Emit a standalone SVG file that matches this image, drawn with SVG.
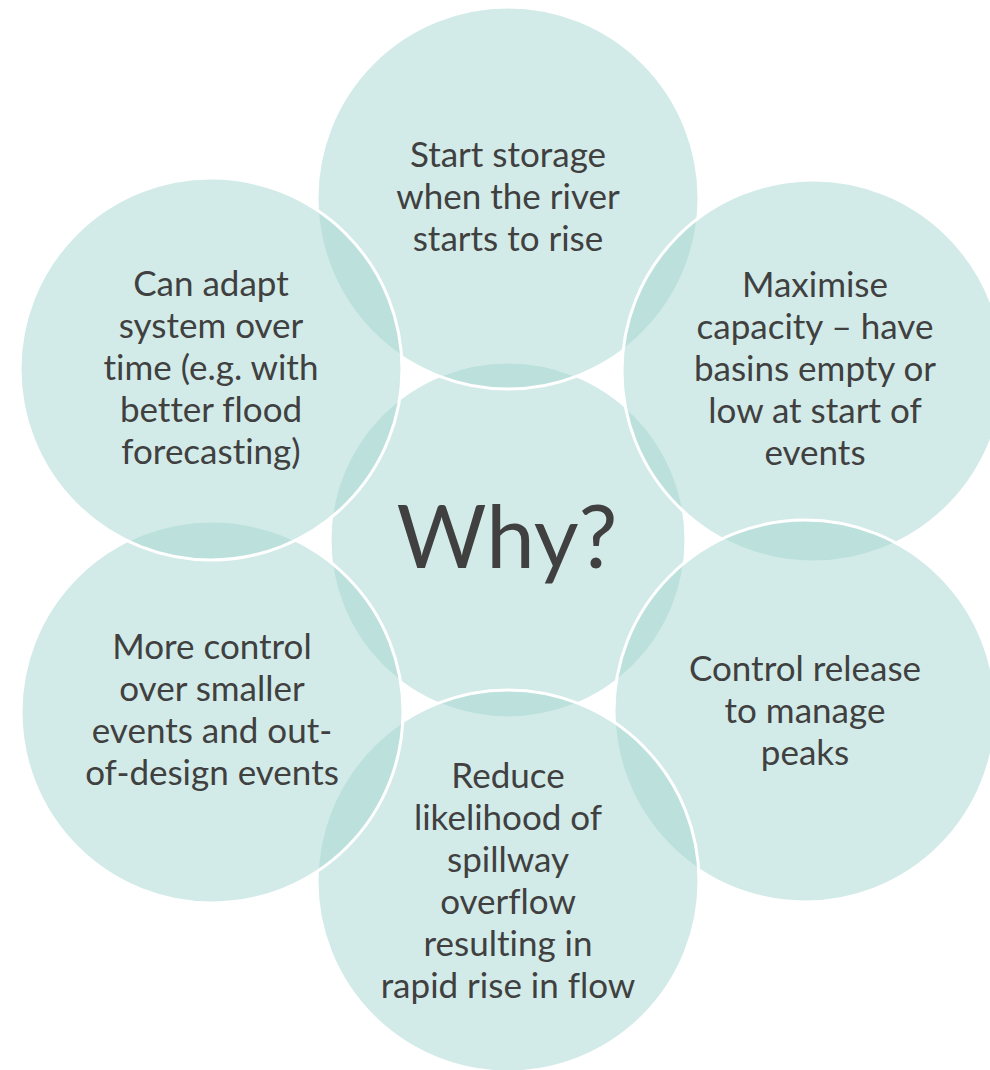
<svg xmlns="http://www.w3.org/2000/svg" width="990" height="1070" viewBox="0 0 990 1070">
<style>
.c{fill:#A5D8D2;fill-opacity:0.5;stroke:#FFFFFF;stroke-width:3}
.t{font-family:Lato,"Noto Sans",sans-serif;font-size:35px;fill:#404040;text-anchor:middle;font-variant-ligatures:none;font-feature-settings:"liga" 0,"clig" 0,"dlig" 0}
.w{font-family:Lato,"Noto Sans",sans-serif;font-size:87px;fill:#404040;text-anchor:middle;font-variant-ligatures:none;font-feature-settings:"liga" 0,"clig" 0}
</style>
<rect width="990" height="1070" fill="#FFFFFF"/>
<g id="center"><circle class="c" cx="508" cy="540" r="178"/></g>
<g id="top"><circle class="c" cx="508" cy="198" r="191"/></g>
<g id="top-right"><circle class="c" cx="813" cy="371" r="191"/></g>
<g id="bottom-right"><circle class="c" cx="805" cy="711" r="191"/></g>
<g id="bottom"><circle class="c" cx="508" cy="881" r="191"/></g>
<g id="bottom-left"><circle class="c" cx="212" cy="712" r="191"/></g>
<g id="top-left"><circle class="c" cx="211" cy="369" r="191"/></g>
<g id="labels">
<text class="w" x="507" y="568">Why?</text>
<text class="t" x="508" y="167">Start storage</text>
<text class="t" x="508" y="209">when the river</text>
<text class="t" x="508" y="251">starts to rise</text>
<text class="t" x="211" y="296">Can adapt</text>
<text class="t" x="211" y="338">system over</text>
<text class="t" x="211" y="380">time (e.g. with</text>
<text class="t" x="211" y="422">better flood</text>
<text class="t" x="211" y="464">forecasting)</text>
<text class="t" x="815" y="297">Maximise</text>
<text class="t" x="815" y="339">capacity – have</text>
<text class="t" x="815" y="381">basins empty or</text>
<text class="t" x="815" y="423">low at start of</text>
<text class="t" x="815" y="465">events</text>
<text class="t" x="805" y="681">Control release</text>
<text class="t" x="805" y="723">to manage</text>
<text class="t" x="805" y="765">peaks</text>
<text class="t" x="212" y="659">More control</text>
<text class="t" x="212" y="701">over smaller</text>
<text class="t" x="212" y="743">events and out-</text>
<text class="t" x="212" y="785">of-design events</text>
<text class="t" x="508" y="788">Reduce</text>
<text class="t" x="508" y="830">likelihood of</text>
<text class="t" x="508" y="872">spillway</text>
<text class="t" x="508" y="914">overflow</text>
<text class="t" x="508" y="956">resulting in</text>
<text class="t" x="508" y="998">rapid rise in flow</text>
</g>
</svg>
